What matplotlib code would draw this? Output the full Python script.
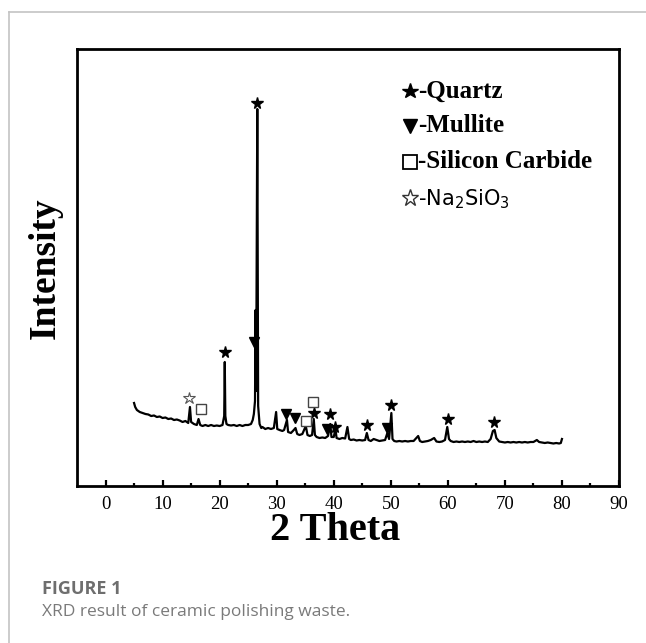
import matplotlib
matplotlib.use("Agg")
import matplotlib.pyplot as plt
from matplotlib.lines import Line2D

# ---- data ----
two_theta = [
    5.0, 5.2, 5.5, 6.0, 6.5, 7.0, 7.5, 8.0, 8.5, 9.0, 9.5, 10.0, 10.5, 11.0, 11.5,
    12.0, 12.5, 13.0, 13.5, 14.0, 14.5, 14.8, 15.0, 15.5, 16.0, 16.3, 16.6, 17.0,
    17.5, 18.0, 18.5, 19.0, 19.5, 20.0, 20.5, 20.8, 20.9, 21.0, 21.2, 21.5, 22.0,
    22.5, 23.0, 23.5, 24.0, 24.5, 25.0, 25.5, 25.8, 26.0, 26.2, 26.3, 26.4, 26.6,
    26.75, 27.0, 27.3, 27.5, 28.0, 28.5, 29.0, 29.5, 29.9, 30.1, 30.5, 31.0, 31.3,
    31.8, 32.0, 32.5, 33.0, 33.3, 33.6, 34.0, 34.5, 35.1, 35.4, 35.8, 36.2, 36.5,
    36.7, 37.0, 37.5, 38.0, 38.5, 39.0, 39.4, 39.6, 40.0, 40.3, 40.5, 41.0, 41.5,
    42.0, 42.4, 42.7, 43.0, 43.5, 44.0, 44.5, 45.0, 45.5, 45.8, 46.1, 46.5, 47.0,
    47.5, 48.0, 48.5, 49.0, 49.4, 49.7, 50.1, 50.3, 50.6, 51.0, 51.5, 52.0, 52.5,
    53.0, 53.5, 54.0, 54.8, 55.1, 55.5, 56.0, 56.5, 57.0, 57.6, 58.0, 58.5, 59.0,
    59.5, 59.9, 60.2, 60.5, 61.0, 61.5, 62.0, 62.5, 63.0, 63.5, 64.0, 64.5, 65.0,
    65.5, 66.0, 66.5, 67.0, 67.5, 67.9, 68.2, 68.5, 69.0, 69.5, 70.0, 70.5, 71.0,
    71.5, 72.0, 72.5, 73.0, 73.5, 74.0, 74.5, 75.0, 75.6, 76.0, 76.5, 77.0, 77.5,
    78.0, 78.5, 79.0, 79.5, 79.8, 80.0,
]
intensity = [
    83, 79, 76, 74, 73, 72, 71.5, 70, 70.5, 69, 69.5, 68, 68.5, 67, 67.5,
    66, 66.5, 65.5, 64, 65, 63, 79, 64, 62, 61, 67, 61, 60,
    61, 60, 61, 60, 60.5, 60, 61, 70, 124, 70, 62, 61, 60.5,
    61, 60, 61, 60, 61, 61, 62, 66, 72, 85, 176, 95, 377,
    80, 62, 58, 59, 57, 58, 57, 58, 74, 57, 56, 55, 56,
    66, 54, 53, 56, 58, 52, 51, 52, 60, 51, 50, 51, 67,
    51, 49, 48, 48.5, 48, 50, 62, 49, 49, 57, 48, 47, 48,
    47.5, 59, 47, 46, 46.5, 45.5, 46, 45.5, 46, 53, 46, 45, 47,
    46, 45, 45.5, 46, 53, 47, 73, 47, 45, 44.5, 45, 44.5, 45,
    44.5, 45, 45, 50, 45, 44, 44.5, 45, 46, 48, 44.5, 44, 44.5,
    46, 59, 47, 45, 44, 44.5, 44, 44.5, 44, 44.5, 44, 45, 44,
    44.5, 44, 44.5, 44, 47, 55, 56, 48, 44.5, 44, 43.5, 44, 43.5,
    44, 43.5, 44, 43.5, 44, 43.5, 44, 44, 46, 44, 43.5, 43, 43.5,
    43, 42.5, 43, 42.5, 43, 47,
]

quartz_x = [20.9, 26.6, 36.5, 39.3, 40.2, 45.8, 50.1, 60.0, 68.1]
quartz_y = [134, 383, 73, 72, 59, 61, 81, 67, 64]
mullite_x = [26.1, 31.7, 33.2, 38.8, 49.3]
mullite_y = [144, 72, 68, 57, 58]
sic_x = [16.7, 35.1, 36.3]
sic_y = [77, 65, 84]
na2sio3_x = [14.7]
na2sio3_y = [88]

x_ticks = [0, 10, 20, 30, 40, 50, 60, 70, 80, 90]
legend_labels = ["-Quartz", "-Mullite", "-Silicon Carbide", r"-Na$_2$SiO$_3$"]

# ---- figure ----
W, H = 646, 643
fig = plt.figure(figsize=(W / 100, H / 100), dpi=100)

def fx(px):
    return px / W

def fy(py):
    return 1 - py / H

# outer frame lines (gray)
fig.add_artist(Line2D([fx(9), 1], [fy(12), fy(12)], color="#c4c4c4", lw=1.2))
fig.add_artist(Line2D([fx(9), fx(9)], [fy(12), 0], color="#c4c4c4", lw=1.2))

ax = fig.add_axes([fx(77), fy(486), fx(619) - fx(77), fy(49) - fy(486)])
ax.plot(two_theta, intensity, color="black", lw=1.6)

mk = dict(linestyle="none", clip_on=False)
ax.plot(quartz_x, quartz_y, marker="*", ms=8.5, color="black", **mk)
ax.plot(mullite_x, mullite_y, marker="v", ms=7.5, color="black", **mk)
ax.plot(sic_x, sic_y, marker="s", ms=7, mfc="white", mec="#444444", mew=1.0, **mk)
ax.plot(na2sio3_x, na2sio3_y, marker="*", ms=9, mfc="white", mec="#555555", mew=0.8, **mk)

ax.set_xlim(-5, 90)
ax.set_ylim(0, 437)
ax.set_xticks(x_ticks)
ax.set_xticks([x + 5 for x in x_ticks[:-1]], minor=True)
ax.set_yticks([])
for s in ax.spines.values():
    s.set_linewidth(2.0)
ax.tick_params(axis="x", which="major", direction="in", length=4, width=1.6,
               labelsize=13.5, pad=7)
ax.tick_params(axis="x", which="minor", direction="in", length=2, width=1.6)
for lab in ax.get_xticklabels():
    lab.set_fontfamily("Liberation Serif")

# axis labels
fig.text(fx(335), fy(531), "2 Theta", ha="center", va="center",
         fontfamily="Liberation Serif", fontweight="bold", fontsize=29)
fig.text(fx(45), fy(268), "Intensity", ha="center", va="center", rotation=90,
         fontfamily="Liberation Serif", fontweight="bold", fontsize=27)

# manual legend
leg_y = [91, 126, 162, 198]
leg_markers = [
    dict(marker="*", ms=11.5, color="black"),
    dict(marker="v", ms=10.5, color="black"),
    dict(marker="s", ms=10, mfc="white", mec="black", mew=1.3),
    dict(marker="*", ms=12.5, mfc="white", mec="#333333", mew=1.0),
]
for py, lab, mkk in zip(leg_y, legend_labels, leg_markers):
    fig.add_artist(Line2D([fx(410)], [fy(py)], linestyle="none", **mkk))
    if "Na" in lab:
        fig.text(fx(418), fy(py + 1), lab, ha="left", va="center",
                 fontfamily="DejaVu Sans", fontsize=15)
    else:
        fig.text(fx(418), fy(py), lab, ha="left", va="center",
                 fontfamily="Liberation Serif", fontweight="bold", fontsize=18)

# caption
fig.text(fx(42), fy(589), "FIGURE 1", ha="left", va="center",
         fontfamily="Open Sans", fontweight="bold", fontsize=13, color="#6e6e6e")
fig.text(fx(42), fy(612), "XRD result of ceramic polishing waste.", ha="left",
         va="center", fontfamily="Open Sans", fontsize=12.5, color="#7a7a7a")

fig.savefig("out.png", dpi=100)
